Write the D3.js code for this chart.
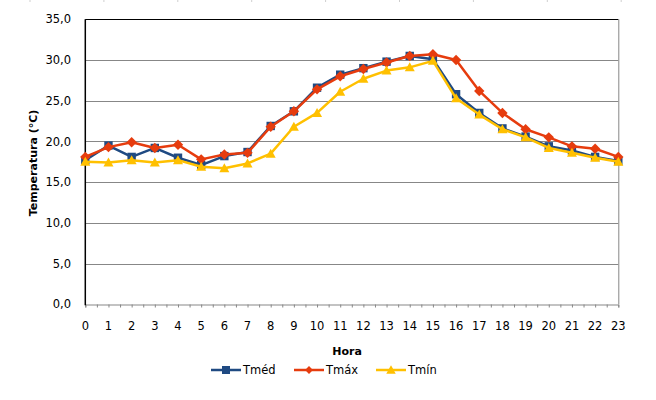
<!DOCTYPE html>
<html lang="pt">

<head>
    <meta charset="UTF-8">
    <title>Temperatura por hora</title>
    <style>
        * {
            margin: 0;
            padding: 0;
        }

        html,
        body {
            overflow: hidden;
            background: #fff;
        }

        text {
            font-family: 'DejaVu Sans', Verdana, sans-serif;
        }
    </style>
</head>

<body>
    <div id="chart"></div>
    <script src="https://cdn.jsdelivr.net/npm/d3@7"></script>
    <script>
        // dados
        const horas = d3.range(24)
        const tmed = [17.7, 19.5, 18.1, 19.2, 18.0, 17.1, 18.2, 18.7, 21.9, 23.7, 26.6, 28.2,
            29.0, 29.8, 30.5, 30.1, 25.8, 23.5, 21.6, 20.6, 19.4, 18.9, 18.1, 17.6]
        const tmax = [18.1, 19.3, 19.9, 19.2, 19.6, 17.8, 18.4, 18.6, 21.8, 23.7, 26.4, 28.0,
            28.9, 29.7, 30.5, 30.7, 30.0, 26.2, 23.5, 21.5, 20.5, 19.4, 19.1, 18.1]
        const tmin = [17.5, 17.4, 17.7, 17.4, 17.7, 16.9, 16.7, 17.3, 18.5, 21.8, 23.5, 26.1,
            27.7, 28.7, 29.1, 29.9, 25.3, 23.3, 21.5, 20.5, 19.2, 18.6, 18.0, 17.5]
        const yTicks = [0, 5, 10, 15, 20, 25, 30, 35]

        function drawChart() {
            const width = 656
            const height = 400
            const svg = d3.select('#chart')
                .append('svg')
                .attr('width', width)
                .attr('height', height)
                .style('background', '#fff')

            const x = d3.scaleLinear().domain([0, 23]).range([85.3, 618.3])
            const y = d3.scaleLinear().domain([0, 35]).range([304.3, 19.3])

            // marquinhas cinza do topo (restos da planilha)
            svg.selectAll('line.top')
                .data(d3.range(9))
                .join('line')
                .attr('x1', d => 30 + d * 73.9)
                .attr('x2', d => 30 + d * 73.9)
                .attr('y1', 0)
                .attr('y2', 2)
                .attr('stroke', '#cfcfcf')

            // linhas de grade
            svg.selectAll('line.grid')
                .data(yTicks.filter(d => d > 0 && d < 35))
                .join('line')
                .attr('x1', x(0))
                .attr('x2', x(23))
                .attr('y1', d => Math.round(y(d)) + 0.5)
                .attr('y2', d => Math.round(y(d)) + 0.5)
                .attr('stroke', '#878787')
                .attr('stroke-width', 1)

            // borda direita e topo
            svg.append('line')
                .attr('x1', x(23) + 0.5).attr('x2', x(23) + 0.5)
                .attr('y1', y(35)).attr('y2', y(0))
                .attr('stroke', '#878787')
            svg.append('line')
                .attr('x1', x(0)).attr('x2', x(23))
                .attr('y1', Math.round(y(35)) + 0.5).attr('y2', Math.round(y(35)) + 0.5)
                .attr('stroke', '#000')

            // eixo x
            const xAxis = d3.axisBottom(x)
                .tickValues(d3.range(0, 23.5, 0.5))
                .tickSize(3)
                .tickFormat('')
            const gx = svg.append('g')
                .attr('transform', `translate(0,${Math.round(y(0)) + 0.5})`)
                .call(xAxis)
            gx.select('.domain').attr('stroke', '#878787')
            gx.selectAll('.tick line').attr('stroke', '#878787')

            svg.selectAll('text.xlab')
                .data(horas)
                .join('text')
                .attr('x', d => x(d))
                .attr('y', 329.5)
                .attr('text-anchor', 'middle')
                .attr('font-size', '11.5px')
                .attr('fill', '#000')
                .text(d => d)

            // eixo y
            const fmt = d => d3.format('.1f')(d).replace('.', ',')
            svg.selectAll('text.ylab')
                .data(yTicks)
                .join('text')
                .attr('x', 71)
                .attr('y', d => y(d))
                .attr('dy', '0.36em')
                .attr('text-anchor', 'end')
                .attr('font-size', '11.5px')
                .attr('fill', '#000')
                .text(fmt)

            svg.append('line')
                .attr('x1', x(0)).attr('x2', x(0))
                .attr('y1', y(35)).attr('y2', y(0) + 1)
                .attr('stroke', '#000')
                .attr('stroke-width', 1.5)

            // títulos dos eixos
            svg.append('text')
                .attr('transform', 'translate(37,163) rotate(-90)')
                .attr('text-anchor', 'middle')
                .attr('font-size', '11px')
                .attr('font-weight', 'bold')
                .text('Temperatura (°C)')

            svg.append('text')
                .attr('x', 347)
                .attr('y', 354.5)
                .attr('text-anchor', 'middle')
                .attr('font-size', '11px')
                .attr('font-weight', 'bold')
                .text('Hora')

            // marcadores
            const square = s => `M${-s},${-s}H${s}V${s}H${-s}Z`
            const diamond = s => `M0,${-s}L${s},0L0,${s}L${-s},0Z`
            const triangle = s => `M0,${-s}L${s},${s * 0.8}L${-s},${s * 0.8}Z`

            const series = [
                { name: 'Tméd', values: tmed, color: '#1F4A82', marker: square(4.2) },
                { name: 'Tmáx', values: tmax, color: '#E63C0E', marker: diamond(5.2) },
                { name: 'Tmín', values: tmin, color: '#FFC000', marker: triangle(5) }
            ]

            const line = d3.line()
                .x((d, i) => x(i))
                .y(d => y(d))

            series.forEach(s => {
                svg.append('path')
                    .datum(s.values)
                    .attr('d', line)
                    .attr('fill', 'none')
                    .attr('stroke', s.color)
                    .attr('stroke-width', 2.5)
                    .attr('stroke-linejoin', 'round')

                svg.selectAll(null)
                    .data(s.values)
                    .join('path')
                    .attr('transform', (d, i) => `translate(${x(i)},${y(d)})`)
                    .attr('d', s.marker)
                    .attr('fill', s.color)
            })

            // legenda
            const legX = [211, 294, 376]
            const leg = svg.selectAll('g.leg')
                .data(series)
                .join('g')
                .attr('transform', (d, i) => `translate(${legX[i]},370)`)
            leg.append('line')
                .attr('x1', 0).attr('x2', 30)
                .attr('stroke', d => d.color)
                .attr('stroke-width', 2.5)
            leg.append('path')
                .attr('transform', (d, i) => `translate(15,0) scale(${i == 1 ? 0.75 : 0.95})`)
                .attr('d', d => d.marker)
                .attr('fill', d => d.color)
            leg.append('text')
                .attr('x', 32)
                .attr('dy', '0.36em')
                .attr('font-size', '11.5px')
                .text(d => d.name)
        }

        drawChart()
    </script>
</body>

</html>
